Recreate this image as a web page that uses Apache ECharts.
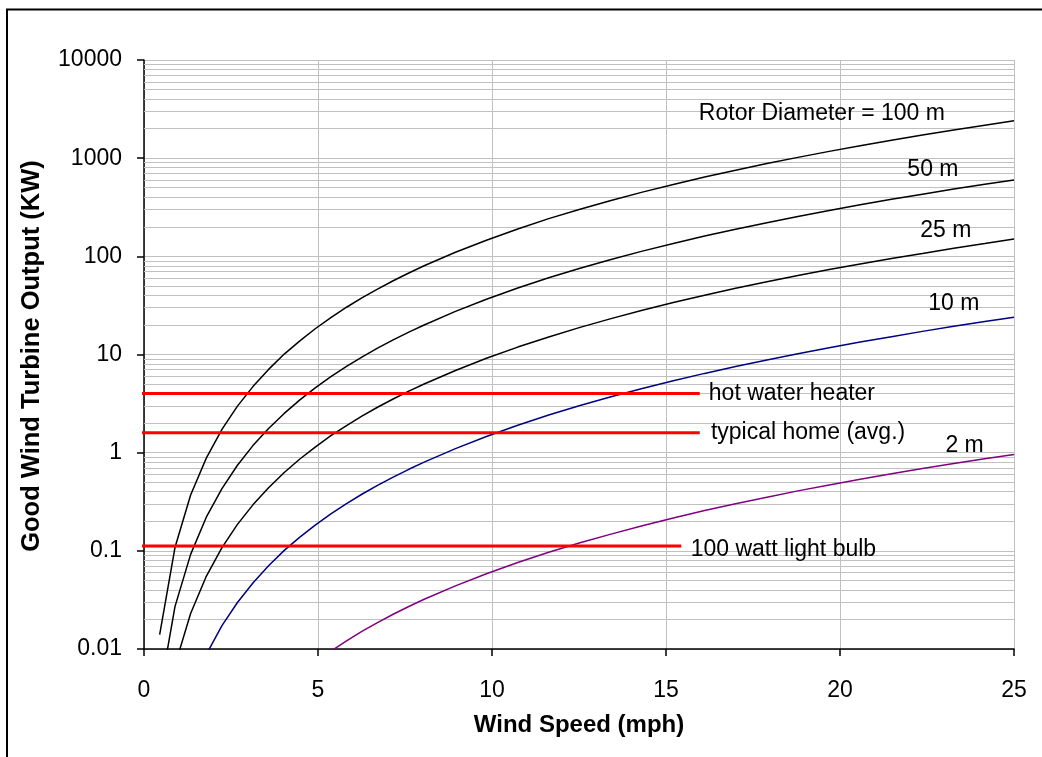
<!DOCTYPE html>
<html><head><meta charset="utf-8">
<script src="https://cdn.jsdelivr.net/npm/echarts@6/dist/echarts.min.js"></script>
<style>html,body{margin:0;padding:0;background:#fff}#c{width:1042px;height:757px}</style>
</head><body><div id="c"></div>
<script>
// Wind speed (mph) samples
const speedMph = [0.45, 0.89, 1.34, 1.79, 2.24, 2.68, 3.13, 3.58, 4.03, 4.47, 4.92, 5.37, 5.82, 6.26, 6.71, 7.16, 7.61, 8.05, 8.95, 9.84, 10.74, 11.63, 12.53, 13.42, 14.32, 15.21, 16.11, 17.0, 17.9, 18.79, 19.69, 20.58, 21.48, 22.37, 23.27, 24.16, 25.0];
// Output (kW) per rotor diameter
const rotor100 = [0.014, 0.108, 0.37, 0.88, 1.73, 2.96, 4.71, 7.05, 10.1, 13.7, 18.3, 23.8, 30.3, 37.7, 46.4, 56.4, 67.7, 80.1, 110, 146, 190, 242, 302, 371, 451, 540, 642, 755, 881, 1019, 1173, 1339, 1522, 1720, 1936, 2166, 2400];
const rotor50 = [0.0035, 0.027, 0.092, 0.22, 0.43, 0.74, 1.18, 1.76, 2.51, 3.43, 4.57, 5.95, 7.57, 9.42, 11.6, 14.1, 16.9, 20.0, 27.5, 36.6, 47.6, 60.4, 75.6, 92.8, 113, 135, 161, 189, 220, 255, 293, 335, 381, 430, 484, 542, 600];
const rotor25 = [0.00088, 0.0068, 0.023, 0.055, 0.108, 0.185, 0.294, 0.44, 0.628, 0.857, 1.14, 1.49, 1.89, 2.36, 2.9, 3.52, 4.23, 5.01, 6.88, 9.15, 11.9, 15.1, 18.9, 23.2, 28.2, 33.8, 40.1, 47.2, 55.1, 63.7, 73.3, 83.7, 95.1, 107, 121, 135, 150];
const rotor10 = [0.00014, 0.0011, 0.0037, 0.0088, 0.0173, 0.0296, 0.0471, 0.0705, 0.101, 0.137, 0.183, 0.238, 0.303, 0.377, 0.464, 0.564, 0.677, 0.801, 1.1, 1.46, 1.9, 2.42, 3.02, 3.71, 4.51, 5.4, 6.42, 7.55, 8.81, 10.2, 11.7, 13.4, 15.2, 17.2, 19.4, 21.7, 24.0];
const rotor2 = [null, null, null, null, null, null, null, null, null, null, 0.0073, 0.0095, 0.0121, 0.0151, 0.0186, 0.0226, 0.0271, 0.0321, 0.044, 0.0585, 0.0761, 0.0966, 0.121, 0.148, 0.18, 0.216, 0.257, 0.302, 0.352, 0.408, 0.469, 0.536, 0.609, 0.688, 0.774, 0.866, 0.96];
const curveLabels = ['Rotor Diameter = 100 m', '50 m', '25 m', '10 m', '2 m'];
// Reference loads (kW)
const loadNames = ['hot water heater', 'typical home (avg.)', '100 watt light bulb'];
const loadKW = [4, 1.6, 0.112];
const loadLineStart = -0.34;
const loadLineEnd = [15.97, 15.97, 15.44];
// Tick labels
const xTickLabels = ['0', '5', '10', '15', '20', '25'];
const yTickLabels = ['0.01', '0.1', '1', '10', '100', '1000', '10000'];

const FONT = 'Liberation Sans, Arial, sans-serif';
const chart = echarts.init(document.getElementById('c'), null, {renderer: 'canvas'});

// minor log gridlines (2..9 within each decade)
const minorVals = [];
for (let i = 0; i < yTickLabels.length - 1; i++) {
  const base = parseFloat(yTickLabels[i]);
  for (let k = 2; k <= 9; k++) minorVals.push(+(base * k).toPrecision(3));
}

const curves = [
  {data: rotor100, color: '#000000'},
  {data: rotor50, color: '#000000'},
  {data: rotor25, color: '#000000'},
  {data: rotor10, color: '#000080'},
  {data: rotor2, color: '#800080'}
];

const series = [{
  type: 'line', data: [], z: 1, silent: true, animation: false,
  markLine: {
    silent: true, symbol: ['none', 'none'], animation: false, z: 1,
    label: {show: false},
    lineStyle: {color: '#c0c0c0', type: 'solid', width: 1},
    data: minorVals.map(v => ({yAxis: v}))
  }
}];
curves.forEach((c, idx) => {
  series.push({
    type: 'line', name: curveLabels[idx], animation: false, clip: true,
    showSymbol: false, symbol: 'none', z: 6,
    data: speedMph.map((x, i) => [x, c.data[i]]),
    lineStyle: {color: c.color, width: 1.5}
  });
});
loadKW.forEach((v, i) => {
  series.push({
    type: 'line', name: loadNames[i], animation: false, clip: false,
    showSymbol: false, symbol: 'none', z: 7,
    data: [[loadLineStart, v], [loadLineEnd[i], v]],
    lineStyle: {color: '#ff0000', width: 3}
  });
});

chart.setOption({
  backgroundColor: '#ffffff',
  animation: false,
  grid: {left: 144, right: 28, top: 60, bottom: 108, containLabel: false},
  xAxis: {
    type: 'value', min: 0, max: 25, interval: 5,
    axisLine: {show: true, onZero: false, lineStyle: {color: '#000', width: 1.5}},
    axisTick: {show: true, inside: false, length: 7, lineStyle: {color: '#000', width: 1.5}},
    axisLabel: {color: '#000', fontFamily: FONT, fontSize: 23, margin: 30,
      formatter: v => xTickLabels[Math.round(v / 5)] || ''},
    splitLine: {show: true, lineStyle: {color: '#c0c0c0', width: 1}}
  },
  yAxis: {
    type: 'log', logBase: 10, min: 0.01, max: 10000,
    axisLine: {show: true, lineStyle: {color: '#000', width: 1.5}},
    axisTick: {show: true, inside: false, length: 7, lineStyle: {color: '#000', width: 1.5}},
    axisLabel: {color: '#000', fontFamily: FONT, fontSize: 23, margin: 22,
      formatter: v => {
        const t = yTickLabels.find(s => Math.abs(Math.log10(parseFloat(s)) - Math.log10(v)) < 1e-6);
        return t || '';
      }},
    splitLine: {show: true, lineStyle: {color: '#c0c0c0', width: 1}}
  },
  series: series
});

// annotations, anchored in data coordinates
const curveAnchors = [[19.48, 2872], [22.67, 755], [23.04, 181], [23.27, 33.3], [23.58, 1.19]];
const loadLabelX = [16.23, 16.29, 15.71];
const loadLabelY = [4, 1.6, 0.104];
const graphics = [];
curveAnchors.forEach((a, i) => {
  const p = chart.convertToPixel({gridIndex: 0}, a);
  graphics.push({type: 'text', x: p[0], y: p[1], z: 10,
    style: {text: curveLabels[i], font: '23px ' + FONT, fill: '#000', textAlign: 'center', textVerticalAlign: 'middle'}});
});
loadNames.forEach((n, i) => {
  const p = chart.convertToPixel({gridIndex: 0}, [loadLabelX[i], loadLabelY[i]]);
  graphics.push({type: 'text', x: p[0], y: p[1], z: 10,
    style: {text: n, font: '23px ' + FONT, fill: '#000', textAlign: 'left', textVerticalAlign: 'middle'}});
});
// axis titles
graphics.push({type: 'text', x: 579, y: 725, z: 10,
  style: {text: 'Wind Speed (mph)', font: 'bold 24px ' + FONT, fill: '#000', textAlign: 'center', textVerticalAlign: 'middle'}});
graphics.push({type: 'text', x: 32, y: 356, rotation: Math.PI / 2, z: 10,
  style: {text: 'Good Wind Turbine Output (KW)', font: 'bold 25.5px ' + FONT, fill: '#000', textAlign: 'center', textVerticalAlign: 'middle'}});
// chart area border
graphics.push({type: 'rect', z: 10, shape: {x: 7, y: 9.5, width: 1100, height: 800},
  style: {fill: 'none', stroke: '#000', lineWidth: 2}});
chart.setOption({graphic: graphics});
</script></body></html>
